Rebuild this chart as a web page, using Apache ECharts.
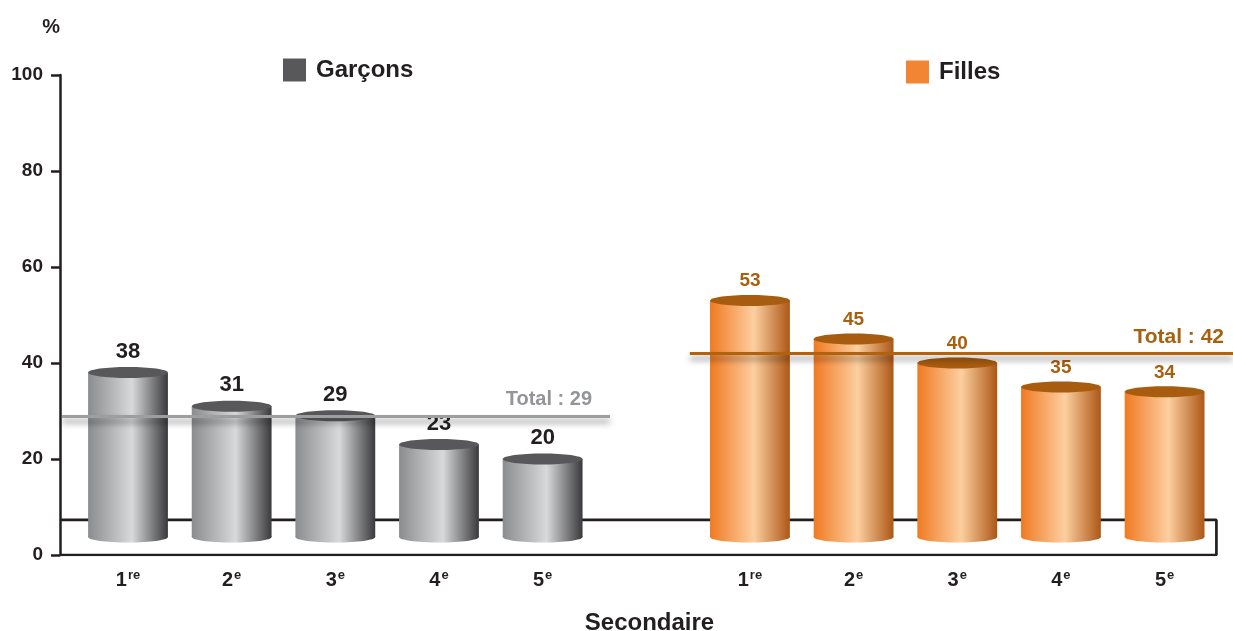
<!DOCTYPE html>
<html>
<head>
<meta charset="utf-8">
<script src="https://cdn.jsdelivr.net/npm/echarts@6/dist/echarts.min.js"></script>
<style>
  html, body { margin: 0; padding: 0; background: #fff; }
  #chart { width: 1233px; height: 631px; }
</style>
</head>
<body>
<div id="chart"></div>
<script>
// data
var niveaux = ['1re', '2e', '3e', '4e', '5e'];
var garcons = [38, 31, 29, 23, 20];
var filles = [53, 45, 40, 35, 34];
var totalGarcons = 29;
var totalFilles = 42;
var yTicks = [0, 20, 40, 60, 80, 100];

// layout helpers (axis units)
var XMIN = -0.656, XMAX = 10.66;
var FLOOR_END = 10.5; // right edge of the floor box
var BAR_W = 0.77;     // bar width in x units
var BASE = 3.75;      // cylinder bottom
var FLOOR = 7.3;      // pseudo 3d floor edge
var GAP = 6;          // first index of the girls group

var garcData = garcons.map(function (v, i) { return [i, v]; });
var fillData = filles.map(function (v, i) { return [GAP + i, v]; });

var labelValues = [];
niveaux.forEach(function (n, i) { labelValues.push(i); });
niveaux.forEach(function (n, i) { labelValues.push(GAP + i); });

function levelLabel(val) {
  var idx = Math.round(val);
  if (idx >= GAP) idx -= GAP;
  var t = niveaux[idx];
  if (!t) return '';
  return '{n|' + t.charAt(0) + '}{s|' + t.slice(1) + '}';
}

function cylinder(colors, topColor, labelColor, labelSize) {
  return function (params, api) {
    var x = api.value(0), v = api.value(1);
    var top = api.coord([x, v]);
    var bot = api.coord([x, BASE]);
    var w = api.size([BAR_W, 0])[0];
    var rx = w / 2, ry = 5.5;
    var grad = new echarts.graphic.LinearGradient(0, 0, 1, 0, colors);
    return {
      type: 'group',
      children: [
        { type: 'rect', shape: { x: top[0] - rx, y: top[1], width: w, height: bot[1] - top[1] }, style: { fill: grad } },
        { type: 'ellipse', shape: { cx: bot[0], cy: bot[1], rx: rx, ry: ry }, style: { fill: grad } },
        { type: 'ellipse', shape: { cx: top[0], cy: top[1], rx: rx, ry: ry }, style: { fill: topColor } },
        { type: 'text', style: { text: String(v), x: top[0], y: top[1] - 10, align: 'center', verticalAlign: 'bottom',
            font: 'bold ' + labelSize + 'px Liberation Sans, Arial, sans-serif', fill: labelColor } }
      ]
    };
  };
}

var greyStops = [
  { offset: 0, color: '#8b8c8e' },
  { offset: 0.55, color: '#d8d9db' },
  { offset: 1, color: '#3a3a3c' }
];
var orangeStops = [
  { offset: 0, color: '#f07a22' },
  { offset: 0.55, color: '#fccfa0' },
  { offset: 1, color: '#ad5716' }
];

function totalLine(x0, x1, v, color, textColor, size, padRight) {
  return {
    silent: true,
    symbol: 'none',
    lineStyle: { color: color, width: 3, type: 'solid',
      shadowColor: 'rgba(0,0,0,0.45)', shadowBlur: 6, shadowOffsetY: 5 },
    label: { show: true, position: 'insideEndTop', distance: 6, formatter: 'Total : ' + v,
      padding: [0, padRight, 0, 0],
      color: textColor, fontWeight: 'bold', fontSize: size, fontFamily: 'Liberation Sans, Arial, sans-serif' },
    data: [[{ coord: [x0, v] }, { coord: [x1, v] }]]
  };
}

var myChart = echarts.init(document.getElementById('chart'));

var option = {
  animation: false,
  textStyle: { fontFamily: 'Liberation Sans, Arial, sans-serif' },
  legend: [
    { data: ['Garçons'], left: 278, top: 53, icon: 'rect', itemWidth: 23, itemHeight: 23,
      textStyle: { fontSize: 24, fontWeight: 'bold', color: '#231f20', padding: [0, 0, 0, 5] } },
    { data: ['Filles'], left: 901, top: 55, icon: 'rect', itemWidth: 23, itemHeight: 23,
      textStyle: { fontSize: 24, fontWeight: 'bold', color: '#231f20', padding: [0, 0, 0, 5] } }
  ],
  grid: { left: 60, right: 0, top: 75, bottom: 76, outerBoundsMode: 'none', containLabel: false },
  xAxis: {
    type: 'value',
    min: XMIN,
    max: XMAX,
    name: 'Secondaire',
    nameLocation: 'middle',
    nameGap: 56,
    nameTextStyle: { fontSize: 24, fontWeight: 'bold', color: '#231f20', padding: [0, 0, 0, 6] },
    axisLine: { show: false },
    axisTick: { show: false },
    splitLine: { show: false },
    axisLabel: {
      customValues: labelValues,
      margin: 14,
      formatter: levelLabel,
      rich: {
        n: { fontSize: 20, fontWeight: 'bold', color: '#231f20' },
        s: { fontSize: 13, fontWeight: 'bold', color: '#231f20', padding: [0, 0, 9, 1] }
      }
    }
  },
  yAxis: {
    type: 'value',
    min: 0,
    max: 100,
    interval: 20,
    name: '%',
    nameLocation: 'end',
    nameGap: 38,
    nameTextStyle: { fontSize: 20, fontWeight: 'bold', color: '#231f20', align: 'right' },
    axisLine: { show: true, onZero: false, lineStyle: { color: '#231f20', width: 2.5 } },
    axisTick: { show: true, length: 9, lineStyle: { color: '#231f20', width: 2.5 } },
    splitLine: { show: false },
    axisLabel: {
      margin: 17, fontSize: 19, fontWeight: 'bold', color: '#231f20',
      formatter: function (v) { return yTicks.indexOf(v) >= 0 ? String(v) : ''; }
    }
  },
  series: [
    {
      name: 'floor',
      type: 'line',
      z: 1,
      silent: true,
      symbol: 'none',
      lineStyle: { color: '#231f20', width: 2.7 },
      data: [[XMIN, FLOOR], [FLOOR_END, FLOOR], [FLOOR_END, 0], [XMIN, 0]]
    },
    {
      name: 'Garçons',
      type: 'custom',
      z: 3,
      itemStyle: { color: '#58585a' },
      renderItem: cylinder(greyStops, '#58585a', '#231f20', 22),
      data: garcData,
      markLine: totalLine(-0.636, 4.65, totalGarcons, '#9d9ea0', '#939598', 20, 12)
    },
    {
      name: 'Filles',
      type: 'custom',
      z: 3,
      itemStyle: { color: '#f28534' },
      renderItem: cylinder(orangeStops, '#a85c10', '#a8600f', 19),
      data: fillData,
      markLine: totalLine(5.42, XMAX, totalFilles, '#b0620f', '#a8600f', 21, 3)
    }
  ]
};

myChart.setOption(option, true);
</script>
</body>
</html>
